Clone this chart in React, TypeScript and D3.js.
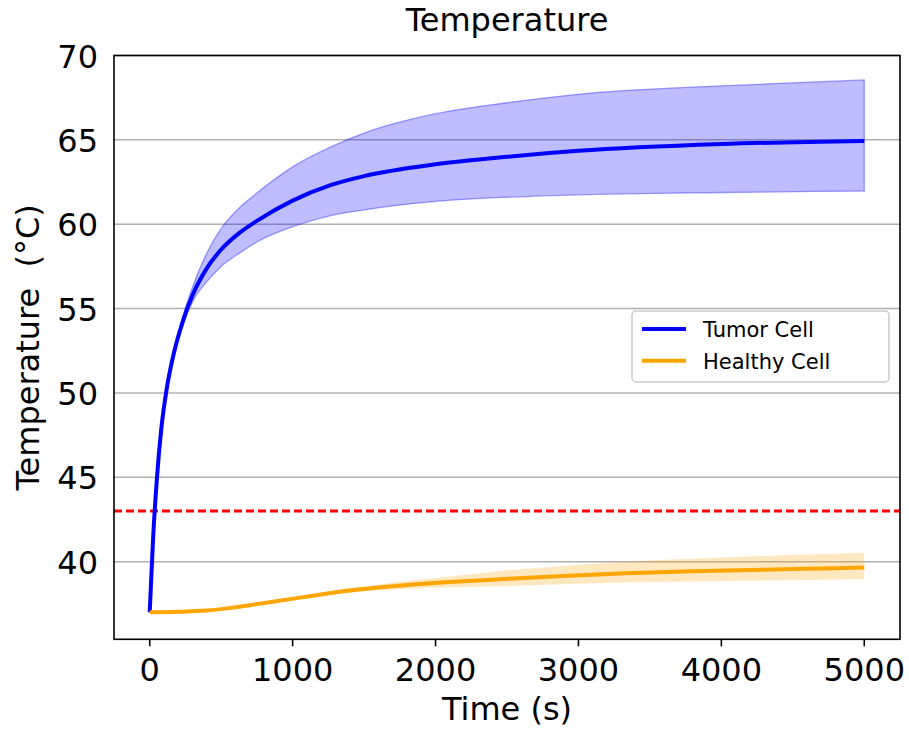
import React, { useEffect, useRef } from 'react';
import * as d3 from 'd3';

// tumor cell: mean and spread band
const tumorTime = [0, 10, 25, 50, 80, 120, 170, 230, 300, 400, 500, 630, 750, 1000, 1260, 1500, 2000, 2500, 3000, 4000, 5000];
const tumorMean = [37, 38.9, 41.6, 44.9, 47.8, 50.3, 52.4, 54.2, 55.8, 57.4, 58.5, 59.5, 60.2, 61.4, 62.3, 62.85, 63.55, 64.0, 64.35, 64.75, 64.94];
const tumorUpper = [37, 38.9, 41.6, 44.9, 47.8, 50.3, 52.5, 54.5, 56.3, 58.3, 59.75, 61.0, 61.85, 63.4, 64.55, 65.4, 66.55, 67.2, 67.7, 68.2, 68.55];
const tumorLower = [37, 38.9, 41.6, 44.9, 47.8, 50.3, 52.3, 54.0, 55.4, 56.6, 57.5, 58.3, 58.95, 59.85, 60.5, 60.85, 61.35, 61.6, 61.74, 61.88, 61.97];

// healthy cell
const healthyTime = [0, 200, 400, 600, 863, 1100, 1330, 1600, 1800, 2100, 2450, 2900, 3330, 3800, 4200, 4600, 5000];
const healthyMean = [37, 37.03, 37.1, 37.3, 37.63, 37.93, 38.22, 38.47, 38.62, 38.8, 38.96, 39.15, 39.31, 39.43, 39.51, 39.58, 39.65];
const healthyUpper = [37, 37.04, 37.12, 37.33, 37.68, 38.02, 38.35, 38.65, 38.85, 39.12, 39.45, 39.75, 40.0, 40.17, 40.3, 40.42, 40.53];
const healthyLower = [37, 37.02, 37.08, 37.27, 37.58, 37.85, 38.1, 38.3, 38.4, 38.48, 38.55, 38.66, 38.76, 38.83, 38.88, 38.92, 38.96];

const threshold = 43;
const xTicks = [0, 1000, 2000, 3000, 4000, 5000];
const yTicks = [40, 45, 50, 55, 60, 65, 70];
const legendLabels = ['Tumor Cell', 'Healthy Cell'];
const legendColors = ['blue', 'orange'];

const FONT = '"DejaVu Sans", Verdana, sans-serif';

const App = () => {
  const svgRef = useRef<SVGSVGElement>(null);

  useEffect(() => {
    const width = 909;
    const height = 730;
    const m = { left: 114, right: 900, top: 55.5, bottom: 639.3 };

    d3.select(svgRef.current).selectAll('*').remove();
    const svg = d3.select(svgRef.current)
      .attr('width', width)
      .attr('height', height);

    svg.append('rect').attr('width', width).attr('height', height).attr('fill', 'white');

    const x = d3.scaleLinear().domain([-250, 5250]).range([m.left, m.right]);
    const y = d3.scaleLinear().domain([35.4, 70]).range([m.bottom, m.top]);

    // grid
    svg.append('g')
      .selectAll('line')
      .data(yTicks)
      .enter()
      .append('line')
      .attr('x1', m.left).attr('x2', m.right)
      .attr('y1', d => y(d)).attr('y2', d => y(d))
      .attr('stroke', '#b0b0b0')
      .attr('stroke-width', 1.5);

    const tumor = tumorTime.map((t, i) => ({ t, mean: tumorMean[i], lo: tumorLower[i], hi: tumorUpper[i] }));
    const healthy = healthyTime.map((t, i) => ({ t, mean: healthyMean[i], lo: healthyLower[i], hi: healthyUpper[i] }));

    const area = d3.area<any>()
      .x(d => x(d.t))
      .y0(d => y(d.lo))
      .y1(d => y(d.hi))
      .curve(d3.curveMonotoneX);
    const line = d3.line<any>()
      .x(d => x(d.t))
      .y(d => y(d.mean))
      .curve(d3.curveMonotoneX);

    svg.append('path')
      .datum(tumor)
      .attr('d', area)
      .attr('fill', 'rgba(0,0,255,0.26)')
      .attr('stroke', 'rgba(0,0,255,0.35)')
      .attr('stroke-width', 1.3);

    svg.append('path')
      .datum(healthy)
      .attr('d', area)
      .attr('fill', 'rgba(255,165,0,0.25)')
      .attr('stroke', 'none');

    // threshold line
    svg.append('line')
      .attr('x1', m.left).attr('x2', m.right)
      .attr('y1', y(threshold)).attr('y2', y(threshold))
      .attr('stroke', 'red')
      .attr('stroke-width', 3)
      .attr('stroke-dasharray', '8,4');

    svg.append('path')
      .datum(tumor)
      .attr('d', line)
      .attr('fill', 'none')
      .attr('stroke', 'blue')
      .attr('stroke-width', 4);

    svg.append('path')
      .datum(healthy)
      .attr('d', line)
      .attr('fill', 'none')
      .attr('stroke', 'orange')
      .attr('stroke-width', 4);

    // spines
    svg.append('rect')
      .attr('x', m.left).attr('y', m.top)
      .attr('width', m.right - m.left).attr('height', m.bottom - m.top)
      .attr('fill', 'none')
      .attr('stroke', 'black')
      .attr('stroke-width', 1.6);

    // x ticks
    const xt = svg.append('g');
    xt.selectAll('line')
      .data(xTicks)
      .enter()
      .append('line')
      .attr('x1', d => x(d)).attr('x2', d => x(d))
      .attr('y1', m.bottom).attr('y2', m.bottom + 7)
      .attr('stroke', 'black')
      .attr('stroke-width', 1.6);
    xt.selectAll('text')
      .data(xTicks)
      .enter()
      .append('text')
      .attr('x', d => x(d))
      .attr('y', 681)
      .attr('text-anchor', 'middle')
      .style('font-family', FONT)
      .style('font-size', '32px')
      .text(d => d);

    svg.append('g')
      .selectAll('text')
      .data(yTicks)
      .enter()
      .append('text')
      .attr('x', 98)
      .attr('y', d => y(d) + 12)
      .attr('text-anchor', 'end')
      .style('font-family', FONT)
      .style('font-size', '32px')
      .text(d => d);

    // labels
    svg.append('text')
      .attr('x', (m.left + m.right) / 2)
      .attr('y', 31)
      .attr('text-anchor', 'middle')
      .style('font-family', FONT)
      .style('font-size', '32px')
      .text('Temperature');

    svg.append('text')
      .attr('x', (m.left + m.right) / 2)
      .attr('y', 720)
      .attr('text-anchor', 'middle')
      .style('font-family', FONT)
      .style('font-size', '32px')
      .text('Time (s)');

    svg.append('text')
      .attr('transform', `translate(39, ${(m.top + m.bottom) / 2}) rotate(-90)`)
      .attr('text-anchor', 'middle')
      .style('font-family', FONT)
      .style('font-size', '32px')
      .style('white-space', 'pre')
      .text('Temperature  (°C)');

    // legend
    const lg = svg.append('g').attr('transform', 'translate(632, 311)');
    lg.append('rect')
      .attr('width', 257).attr('height', 71)
      .attr('rx', 4)
      .attr('fill', 'white')
      .attr('fill-opacity', 0.8)
      .attr('stroke', '#cccccc')
      .attr('stroke-width', 1.5);
    legendLabels.forEach((label, i) => {
      const cy = 18 + i * 31.7;
      lg.append('line')
        .attr('x1', 10).attr('x2', 54)
        .attr('y1', cy).attr('y2', cy)
        .attr('stroke', legendColors[i])
        .attr('stroke-width', 4);
      lg.append('text')
        .attr('x', 71)
        .attr('y', cy + 8)
        .style('font-family', FONT)
        .style('font-size', '21px')
        .text(label);
    });
  }, []);

  return <svg ref={svgRef} style={{ position: 'absolute', left: 0, top: 0 }}></svg>;
};

export default App;
